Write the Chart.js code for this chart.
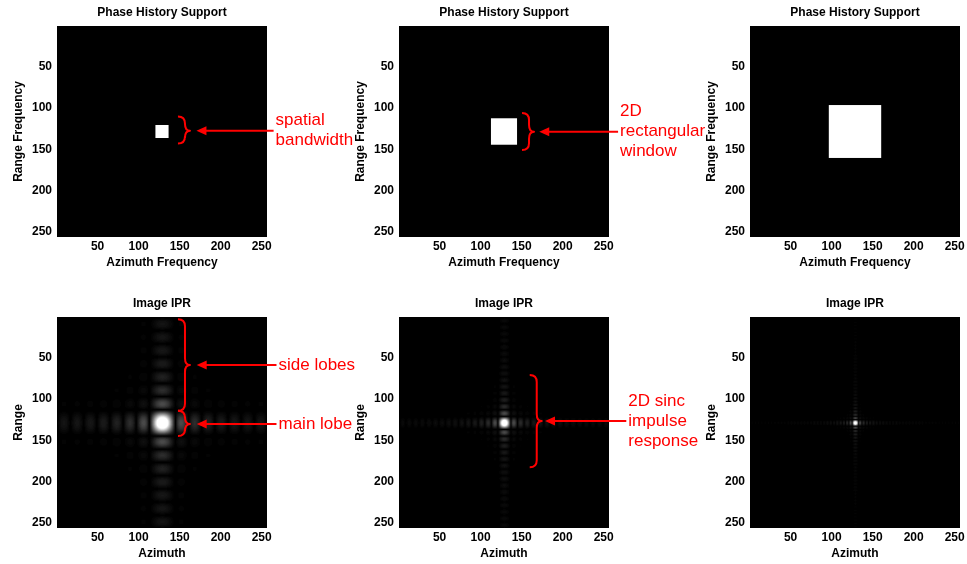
<!DOCTYPE html>
<html>
<head>
<meta charset="utf-8">
<title>Phase history support and image IPR</title>
<script src="https://cdn.jsdelivr.net/npm/chart.js@4.4.1/dist/chart.umd.min.js"></script>
<style>
  html, body { margin: 0; padding: 0; background: #fff; }
  #figure { position: relative; width: 967px; height: 564px; overflow: hidden; }
  #figure canvas { position: absolute; }
  #notes { left: 0; top: 0; pointer-events: none; }
</style>
</head>
<body>
<div id="figure">
  <canvas id="panel0" width="280" height="273" style="left:0px;top:0px"></canvas>
  <canvas id="panel1" width="280" height="273" style="left:342px;top:0px"></canvas>
  <canvas id="panel2" width="280" height="273" style="left:693px;top:0px"></canvas>
  <canvas id="panel3" width="280" height="273" style="left:0px;top:291px"></canvas>
  <canvas id="panel4" width="280" height="273" style="left:342px;top:291px"></canvas>
  <canvas id="panel5" width="280" height="273" style="left:693px;top:291px"></canvas>
  <canvas id="notes" width="967" height="564"></canvas>
</div>
<script>
// 256 x 256 sample grid, pixel centres at 1..256
const gridSize = 256;
const axisMin = 0.5;
const axisMax = 256.5;
const tickValues = [50, 100, 150, 200, 250];

// rectangular support windows: first / last sample on both axes
const windowStart = [121, 113, 97];
const windowEnd = [136, 144, 160];
// zero-frequency bin after fftshift
const iprCenter = 129;
// IPR magnitude at and above this is drawn white
const iprClim = 0.75;
// gray colormap length
const grayLevels = 64;

const supportTitle = 'Phase History Support';
const supportXLabel = 'Azimuth Frequency';
const supportYLabel = 'Range Frequency';
const iprTitle = 'Image IPR';
const iprXLabel = 'Azimuth';
const iprYLabel = 'Range';

// callouts: brace + arrow + text, in data units of the panel they point at
const calloutPanel = [0, 1, 3, 3, 4];
const calloutText = [
  ['spatial', 'bandwidth'],
  ['2D', 'rectangular', 'window'],
  ['side lobes'],
  ['main lobe'],
  ['2D sinc', 'impulse', 'response']
];
const braceX = [156.5, 159, 156.5, 156.5, 168.4];
const braceTop = [110.3, 106, 3.3, 114.2, 70.9];
const braceBottom = [143.1, 151, 114.2, 144.9, 182.9];
const braceMid = [127.5, 128.7, 58.7, 130.3, 126.7];
const arrowTipX = [170.5, 171.5, 170.8, 170.8, 178.5];
const textX = [267, 270, 270.5, 270.5, 280];

const FONT = '"Liberation Sans", Arial, Helvetica, sans-serif';
const RED = '#ff0000';

function supportGrid(a, b) {
  const g = new Float32Array(gridSize * gridSize);
  for (let r = a; r <= b; r++) {
    for (let c = a; c <= b; c++) g[(r - 1) * gridSize + (c - 1)] = 1;
  }
  return g;
}

// |DFT| of the rectangular window, normalised to 1 at zero frequency
function windowSpectrum(a, b) {
  const m = b - a + 1;
  const out = new Float32Array(gridSize);
  for (let i = 1; i <= gridSize; i++) {
    const k = i - iprCenter;
    let re = 0, im = 0;
    for (let n = a; n <= b; n++) {
      const ph = -2 * Math.PI * k * n / gridSize;
      re += Math.cos(ph);
      im += Math.sin(ph);
    }
    out[i - 1] = Math.hypot(re, im) / m;
  }
  return out;
}

function iprGrid(a, b) {
  const s = windowSpectrum(a, b);
  const g = new Float32Array(gridSize * gridSize);
  for (let r = 0; r < gridSize; r++) {
    for (let c = 0; c < gridSize; c++) g[r * gridSize + c] = s[r] * s[c] / iprClim;
  }
  return g;
}

// values 0..1 through a stepped gray colormap
function grayImage(grid) {
  const cv = document.createElement('canvas');
  cv.width = gridSize;
  cv.height = gridSize;
  const cx = cv.getContext('2d');
  const img = cx.createImageData(gridSize, gridSize);
  for (let i = 0; i < grid.length; i++) {
    const level = Math.min(grayLevels - 1, Math.floor(Math.max(0, grid[i]) * grayLevels));
    const v = Math.round(level / (grayLevels - 1) * 255);
    img.data[i * 4] = v;
    img.data[i * 4 + 1] = v;
    img.data[i * 4 + 2] = v;
    img.data[i * 4 + 3] = 255;
  }
  cx.putImageData(img, 0, 0);
  return cv;
}

// paints the gray image into the plot area, cell edges taken from the scales
const heatmapPlugin = {
  id: 'heatmap',
  beforeDatasetsDraw(chart, args, opts) {
    if (!opts.image) return;
    const { ctx, scales: { x, y } } = chart;
    const left = x.getPixelForValue(axisMin);
    const right = x.getPixelForValue(axisMax);
    const top = y.getPixelForValue(axisMin);
    const bottom = y.getPixelForValue(axisMax);
    ctx.save();
    ctx.imageSmoothingEnabled = true;
    ctx.imageSmoothingQuality = 'high';
    ctx.drawImage(opts.image, left, top, right - left, bottom - top);
    ctx.restore();
  }
};

function fixedTicks(scale) {
  scale.ticks = tickValues.map(v => ({ value: v }));
}

function makePanel(id, title, xLabel, yLabel, image) {
  const tickFont = { family: FONT, size: 12, weight: 'bold', lineHeight: 1.25 };
  return new Chart(document.getElementById(id), {
    type: 'scatter',
    data: { datasets: [{ data: [] }] },
    plugins: [heatmapPlugin],
    options: {
      responsive: false,
      animation: false,
      events: [],
      layout: { padding: { left: 0, right: 13, top: 0, bottom: 0 } },
      plugins: {
        legend: { display: false },
        tooltip: { enabled: false },
        title: {
          display: true,
          fullSize: false,
          text: title,
          color: '#000',
          font: { family: FONT, size: 12, weight: 'bold', lineHeight: 1.25 },
          padding: { top: 5, bottom: 6 }
        },
        heatmap: { image: image }
      },
      scales: {
        x: {
          type: 'linear',
          min: axisMin,
          max: axisMax,
          grid: { display: false, drawTicks: false },
          border: { display: false },
          afterBuildTicks: fixedTicks,
          afterFit: s => { s.height = 36; },
          ticks: { color: '#000', font: tickFont, padding: 2.5, maxRotation: 0, autoSkip: false },
          title: { display: true, text: xLabel, color: '#000', font: tickFont, padding: { top: 0, bottom: 2.5 } }
        },
        y: {
          type: 'linear',
          reverse: true,
          min: axisMin,
          max: axisMax,
          grid: { display: false, drawTicks: false },
          border: { display: false },
          afterBuildTicks: fixedTicks,
          afterFit: s => { s.width = 57; },
          ticks: { color: '#000', font: tickFont, padding: 5, autoSkip: false },
          title: { display: true, text: yLabel, color: '#000', font: tickFont, padding: { top: 11, bottom: 0 } }
        }
      }
    }
  });
}

const charts = [];
for (let i = 0; i < 3; i++) {
  charts.push(makePanel('panel' + i, supportTitle, supportXLabel, supportYLabel,
    grayImage(supportGrid(windowStart[i], windowEnd[i]))));
}
for (let i = 0; i < 3; i++) {
  charts.push(makePanel('panel' + (i + 3), iprTitle, iprXLabel, iprYLabel,
    grayImage(iprGrid(windowStart[i], windowEnd[i]))));
}

// red braces, arrows and labels on top of all panels
function drawCallouts() {
  const ctx = document.getElementById('notes').getContext('2d');
  const hook = 7, tip = 5, r = 7, headLen = 10, headHalf = 4.5, lineGap = 20;
  ctx.strokeStyle = RED;
  ctx.fillStyle = RED;
  ctx.lineWidth = 2;
  ctx.lineJoin = 'round';
  ctx.lineCap = 'butt';

  calloutPanel.forEach((p, i) => {
    const chart = charts[p];
    const cv = chart.canvas;
    const ox = cv.offsetLeft, oy = cv.offsetTop;
    const px = v => ox + chart.scales.x.getPixelForValue(v);
    const py = v => oy + chart.scales.y.getPixelForValue(v);

    const xb = px(braceX[i]);
    const y0 = py(braceTop[i]), y1 = py(braceBottom[i]), ym = py(braceMid[i]);

    // right-facing curly brace
    ctx.beginPath();
    ctx.moveTo(xb - hook, y0);
    ctx.quadraticCurveTo(xb, y0, xb, y0 + r);
    ctx.lineTo(xb, ym - r);
    ctx.quadraticCurveTo(xb, ym, xb + tip, ym);
    ctx.quadraticCurveTo(xb, ym, xb, ym + r);
    ctx.lineTo(xb, y1 - r);
    ctx.quadraticCurveTo(xb, y1, xb - hook, y1);
    ctx.stroke();

    // arrow from the text back to the brace
    const xt = px(textX[i]);
    const xa = px(arrowTipX[i]);
    ctx.beginPath();
    ctx.moveTo(xt - 2, ym);
    ctx.lineTo(xa + headLen - 1, ym);
    ctx.stroke();
    ctx.beginPath();
    ctx.moveTo(xa, ym);
    ctx.lineTo(xa + headLen, ym - headHalf);
    ctx.lineTo(xa + headLen, ym + headHalf);
    ctx.closePath();
    ctx.fill();

    // text block centred on the arrow
    const lines = calloutText[i];
    ctx.font = '17px ' + FONT;
    ctx.textAlign = 'left';
    ctx.textBaseline = 'middle';
    lines.forEach((t, j) => {
      ctx.fillText(t, xt, ym + (j - (lines.length - 1) / 2) * lineGap);
    });
  });
}
drawCallouts();
</script>
</body>
</html>
